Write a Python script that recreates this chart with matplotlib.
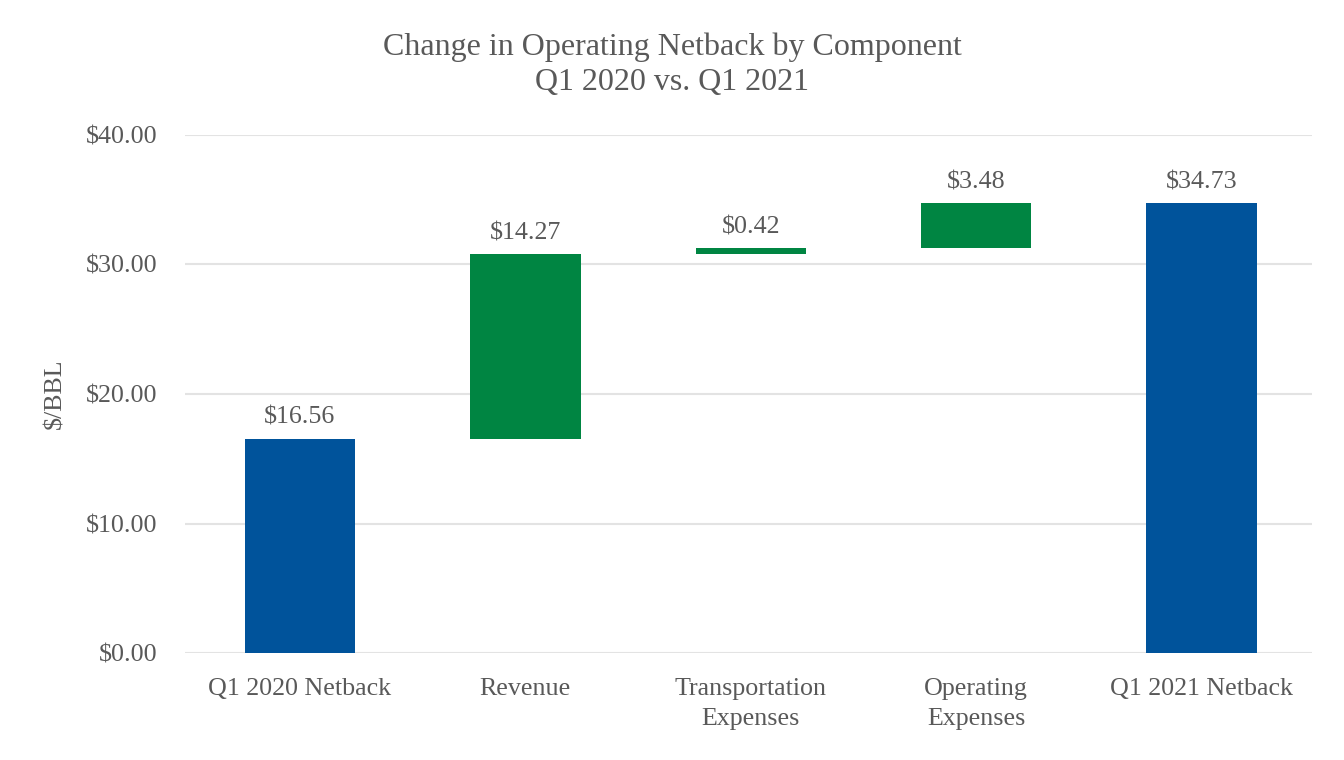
import matplotlib.pyplot as plt

categories = ["Q1 2020 Netback", "Revenue", "Transportation\nExpenses", "Operating\nExpenses", "Q1 2021 Netback"]
changes = [16.56, 14.27, 0.42, 3.48, 34.73]
is_total = [True, False, False, False, True]
labels = ["$16.56", "$14.27", "$0.42", "$3.48", "$34.73"]

blue = "#00539b"
green = "#008542"
text_col = "#595959"

plt.rcParams['font.family'] = ['Liberation Serif', 'DejaVu Serif']

fig = plt.figure(figsize=(13.44, 7.6), dpi=100)
ax = fig.add_axes([185 / 1344, 1 - 653 / 760, (1312 - 185) / 1344, (653 - 135) / 760])

running = 0.0
for i, (val, tot) in enumerate(zip(changes, is_total)):
    if tot:
        bottom, height, col = 0, val, blue
        running = val
    else:
        bottom, height, col = running, val, green
        running += val
    ax.bar(i, height, bottom=bottom, width=0.49, color=col, zorder=3)
    ax.annotate(labels[i], (i, bottom + height), xytext=(0, 7), textcoords="offset points",
                ha="center", va="bottom", fontsize=18.7, color=text_col)

ax.set_xlim(-0.51, 4.49)
ax.set_ylim(0, 40)
ax.set_yticks([0, 10, 20, 30, 40])
ax.set_yticklabels(["$0.00", "$10.00", "$20.00", "$30.00", "$40.00"])
ax.set_xticks(range(len(categories)))
ax.set_xticklabels(categories, linespacing=1.5)
ax.tick_params(axis="both", length=0, labelsize=18.7, colors=text_col)
ax.tick_params(axis="x", pad=18)
ax.tick_params(axis="y", pad=20)
ax.grid(axis="y", color="#e3e3e3", linewidth=1.5, zorder=0)
for s in ax.spines.values():
    s.set_visible(False)
ax.set_ylabel("$/BBL", fontsize=18.7, color=text_col, labelpad=14)

fig.suptitle("Change in Operating Netback by Component\nQ1 2020 vs. Q1 2021", y=0.957,
             fontsize=23, color=text_col, linespacing=1.25)

fig.savefig("out.png", dpi=100)
